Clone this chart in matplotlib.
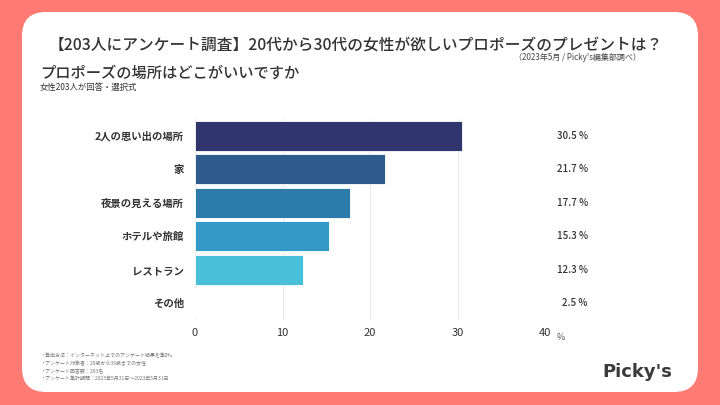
import matplotlib
matplotlib.use('Agg')
import matplotlib.pyplot as plt
from matplotlib.patches import FancyBboxPatch

plt.rcParams['font.family'] = ['Noto Sans CJK JP', 'DejaVu Sans']

# data
categories = ['2人の思い出の場所', '家', '夜景の見える場所', 'ホテルや旅館', 'レストラン', 'その他']
values = [30.5, 21.7, 17.7, 15.3, 12.3, 2.5]
bar_colors = ['#31356E', '#2E5A8E', '#2C7BAB', '#3399C6', '#48C0D9', '#FFFFFF']
xticks = [0, 10, 20, 30, 40]

title = '【203人にアンケート調査】20代から30代の女性が欲しいプロポーズのプレゼントは？'
source = '（2023年5月 / Picky\'s編集部調べ）'
question = 'プロポーズの場所はどこがいいですか'
note = '女性203人が回答・選択式'
footnotes = [
    '・算出方法：インターネット上でのアンケート結果を集計。',
    '・アンケート対象者：20歳から39歳までの女性',
    '・アンケート回答数：203名',
    '・アンケート集計期間：2023年5月31日〜2023年5月31日',
]

fig = plt.figure(figsize=(7.2, 4.05), dpi=100)
fig.patch.set_facecolor('#FF7A73')

# background layer in pixel coords
bg = fig.add_axes([0, 0, 1, 1])
bg.set_xlim(0, 720)
bg.set_ylim(405, 0)
bg.axis('off')
card = FancyBboxPatch((22, 12), 676, 380, boxstyle='round,pad=0,rounding_size=24',
                      facecolor='white', edgecolor='none')
bg.add_patch(card)

bg.text(356, 45, title, ha='center', va='center', fontsize=11.3, color='#333333',
        fontweight='medium')
bg.text(641, 58, source, ha='right', va='center', fontsize=5.8, color='#444444')
bg.text(40, 73, question, ha='left', va='center', fontsize=11, color='#333333',
        fontweight='medium')
bg.text(40, 87, note, ha='left', va='center', fontsize=6, color='#333333')
for i, line in enumerate(footnotes):
    bg.text(40, 356 + i * 7.7, line, ha='left', va='center', fontsize=3.6, color='#777777')
bg.text(637, 372, 'Picky\'s', ha='center', va='center', fontsize=13,
        fontweight='bold', color='#3A3A3A', family=['DejaVu Sans'])

# chart
ax = fig.add_axes([195 / 720, (405 - 320) / 405, 350 / 720, 201 / 405])
ax.set_facecolor('none')
ypos = list(range(len(categories)))
ax.barh(ypos, values, height=0.9, color=bar_colors, edgecolor='white', linewidth=0.6, zorder=3)
ax.set_xlim(0, 40)
ax.set_ylim(5.5, -0.5)
ax.set_xticks(xticks)
ax.set_xticklabels([str(t) for t in xticks], fontsize=8, color='#333333')
ax.set_yticks(ypos)
ax.set_yticklabels(categories, fontsize=7.5, color='#333333', fontweight='bold')
ax.tick_params(length=0, pad=8)
ax.tick_params(axis='x', pad=6)
ax.grid(axis='x', color='#E8E8E8', linewidth=0.8, zorder=0)
for s in ax.spines.values():
    s.set_visible(False)

# percentage labels, right-aligned outside the plot area
label_x = 1.0 + (588 - 545) / 350
for y, v in zip(ypos, values):
    ax.text(label_x, y, f'{v} %', transform=ax.get_yaxis_transform(), ha='right', va='center',
            fontsize=7, color='#333333', fontweight='medium')

bg.text(561, 338, '%', ha='center', va='center', fontsize=6.5, color='#555555')

fig.savefig('out.png', dpi=100)
